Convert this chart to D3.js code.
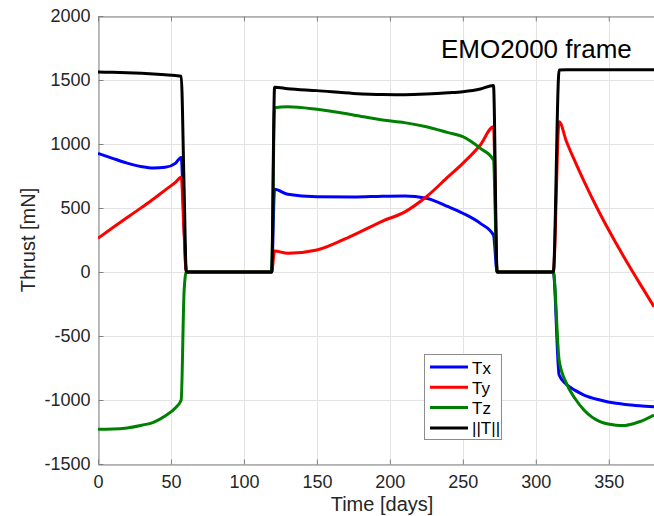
<!DOCTYPE html>
<html>
<head>
<meta charset="utf-8">
<script src="https://cdn.jsdelivr.net/npm/d3@7"></script>
<style>
  html, body { margin: 0; padding: 0; background: #fff; }
  svg { display: block; font-family: "Liberation Sans", Arial, Helvetica, sans-serif; }
</style>
</head>
<body>
<svg id="chart" width="654" height="516"></svg>
<script>
// ---- data ----
const days = [0,10,20,30,38,46,53,57,59,60.5, 119,121,130,150,175,195,210,225,240,250,262,271,273.5, 312,316,321,327,333,344,355,360,367,371,381];
const Tx = [927,888,851,823,812,818,849,895,350,0, 0,646,607,588,586,592,594,576,510,459,380,289,0, 0,-805,-878,-925,-961,-1000,-1026,-1033,-1041,-1045,-1052];
const Ty = [263,345,426,505,570,640,700,740,300,0, 0,165,146,172,289,398,468,588,745,849,992,1135,0, 0,1174,1020,860,710,455,225,125,-10,-85,-271];
const Tz = [-1229,-1227,-1218,-1197,-1174,-1125,-1062,-1000,-150,0, 0,1284,1291,1271,1227,1187,1167,1135,1089,1057,966,875,0, 0,-690,-870,-990,-1078,-1169,-1197,-1200,-1185,-1170,-1117];
const Tnorm = [1563,1560,1557,1552,1547,1541,1535,1530,656,0, 0,1443,1432,1417,1395,1386,1385,1390,1400,1409,1430,1458,0, 0,1578,1580,1580,1580,1580,1580,1580,1580,1580,1580];

const seriesNames = ["Tx", "Ty", "Tz", "||T||"];
const seriesValues = [Tx, Ty, Tz, Tnorm];
const seriesColors = ["#0000ff", "#ff0000", "#008000", "#000000"];

const xTicks = [0, 50, 100, 150, 200, 250, 300, 350];
const yTicks = [-1500, -1000, -500, 0, 500, 1000, 1500, 2000];
const xDomain = [0, 381];
const yDomain = [-1500, 2000];

const titleText = "EMO2000 frame";
const xLabel = "Time [days]";
const yLabel = "Thrust [mN]";

// ---- layout ----
const svg = d3.select("#chart");
const pL = 98, pT = 16, pR = 654, pB = 464;

const x = d3.scaleLinear().domain(xDomain).range([pL, pR]);
const y = d3.scaleLinear().domain(yDomain).range([pB, pT]);

const gridColor = "#e3e3e3";
const axisColor = "#808080";
const textColor = "#262626";
const plain = d => String(d);

// grid
svg.append("g").selectAll("line").data(xTicks).join("line")
  .attr("x1", d => Math.round(x(d)) + 0.5).attr("x2", d => Math.round(x(d)) + 0.5)
  .attr("y1", pT).attr("y2", pB)
  .attr("stroke", gridColor).attr("stroke-width", 1);
svg.append("g").selectAll("line").data(yTicks).join("line")
  .attr("x1", pL).attr("x2", pR)
  .attr("y1", d => Math.round(y(d)) + 0.5).attr("y2", d => Math.round(y(d)) + 0.5)
  .attr("stroke", gridColor).attr("stroke-width", 1);

// axes
const xAxisB = d3.axisBottom(x).tickValues(xTicks).tickFormat(plain).tickSizeInner(-5).tickSizeOuter(0).tickPadding(11);
const xAxisT = d3.axisTop(x).tickValues(xTicks).tickSizeInner(-5).tickSizeOuter(0).tickFormat("");
const yAxisL = d3.axisLeft(y).tickValues(yTicks).tickFormat(plain).tickSizeInner(-5).tickSizeOuter(0).tickPadding(8);

function styleAxis(g) {
  g.select(".domain").attr("stroke", axisColor);
  g.selectAll(".tick line").attr("stroke", axisColor);
  g.selectAll(".tick text").attr("fill", textColor).attr("font-size", 18)
    .attr("font-family", "'Liberation Sans', Arial, sans-serif");
}
svg.append("g").attr("transform", `translate(0,${pB + 0.5})`).call(xAxisB).call(styleAxis);
svg.append("g").attr("transform", `translate(0,${pT + 0.5})`).call(xAxisT).call(styleAxis);
svg.append("g").attr("transform", `translate(${pL + 0.5},0)`).call(yAxisL).call(styleAxis);

// lines
svg.append("defs").append("clipPath").attr("id", "clip")
  .append("rect").attr("x", pL).attr("y", pT - 2).attr("width", pR - pL).attr("height", pB - pT + 4);

const line = d3.line()
  .x((d, i) => x(days[i]))
  .y(d => y(d))
  .curve(d3.curveMonotoneX);

const linesG = svg.append("g").attr("clip-path", "url(#clip)");
seriesValues.forEach((vals, k) => {
  linesG.append("path")
    .attr("d", line(vals))
    .attr("fill", "none")
    .attr("stroke", seriesColors[k])
    .attr("stroke-width", 3)
    .attr("stroke-linejoin", "round");
});

// title
svg.append("text").attr("x", 441).attr("y", 58)
  .attr("font-size", 26).attr("fill", "#000").text(titleText);

// axis labels
svg.append("text").attr("x", 382).attr("y", 511)
  .attr("text-anchor", "middle").attr("font-size", 20).attr("fill", textColor).text(xLabel);
svg.append("text").attr("transform", "translate(35,240) rotate(-90)")
  .attr("text-anchor", "middle").attr("font-size", 20).attr("fill", textColor).text(yLabel);

// legend
const lg = svg.append("g");
lg.append("rect").attr("x", 424.5).attr("y", 354.5).attr("width", 77).attr("height", 85)
  .attr("fill", "#fff").attr("stroke", "#8c8c8c").attr("stroke-width", 1);
seriesNames.forEach((name, k) => {
  const yy = 367 + k * 20.3;
  lg.append("line").attr("x1", 430).attr("x2", 468).attr("y1", yy).attr("y2", yy)
    .attr("stroke", seriesColors[k]).attr("stroke-width", 3);
  lg.append("text").attr("x", 472).attr("y", yy + 6.5).attr("font-size", 17)
    .attr("fill", "#000").text(name);
});
</script>
</body>
</html>
